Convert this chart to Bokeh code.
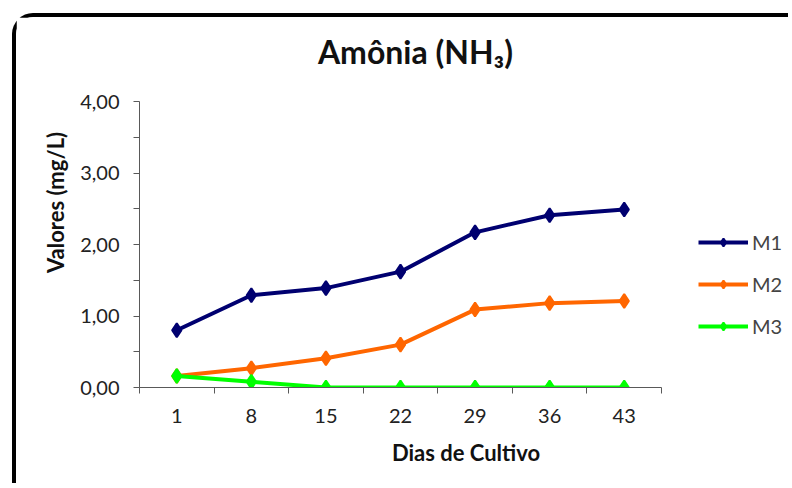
from bokeh.plotting import figure
from bokeh.models import (Range1d, FixedTicker, Legend, LegendItem, Label,
                          CustomJSTickFormatter)
from bokeh.embed import file_html
from bokeh.resources import INLINE

# ---- data ----
days = ["1", "8", "15", "22", "29", "36", "43"]
m1 = [0.80, 1.29, 1.39, 1.62, 2.17, 2.41, 2.49]
m2 = [0.16, 0.27, 0.41, 0.60, 1.09, 1.18, 1.21]
m3 = [0.16, 0.08, 0.00, 0.00, 0.00, 0.00, 0.00]
series_names = ["M1", "M2", "M3"]
y_ticks = [0, 1, 2, 3, 4]
y_tick_labels = ["0,00", "1,00", "2,00", "3,00", "4,00"]
title_text = "Amônia (NH₃)"
x_label = "Dias de Cultivo"
y_label = "Valores (mg/L)"

colors = ["#000070", "#ff6600", "#00ff00"]
FONT = "Lato"

# ---- layout constants (pixels) ----
W, H = 776, 470
LEFT, BOTTOM = 123, 100          # space for the axes
AXIS_W, AXIS_H = 522, 286        # drawn length of x and y axes
FRAME_W, FRAME_H = W - LEFT, H - BOTTOM
Y_MAX = y_ticks[-1]
x_end = len(days) * FRAME_W / AXIS_W
y_end = Y_MAX * FRAME_H / AXIS_H

xs = [i + 0.5 for i in range(len(days))]

p = figure(width=W, height=H, output_backend="svg", toolbar_location=None,
           title=None,
           x_range=Range1d(0, x_end), y_range=Range1d(0, y_end),
           min_border_left=LEFT, min_border_right=0,
           min_border_top=0, min_border_bottom=BOTTOM,
           outline_line_color=None, background_fill_color="white",
           border_fill_color="white")
p.styles = {"margin-left": "12px", "margin-top": "13px",
            "border-top": "4px solid black", "border-left": "4px solid black",
            "border-top-left-radius": "21px"}
p.xgrid.visible = False
p.ygrid.visible = False

axis_col = "#595959"
# x axis
p.xaxis.bounds = (0, len(days))
p.xaxis.ticker = FixedTicker(ticks=xs, minor_ticks=list(range(len(days) + 1)))
p.xaxis.formatter = CustomJSTickFormatter(args=dict(labels=days),
                                          code="return labels[Math.floor(tick)];")
p.xaxis.major_tick_out = 0
p.xaxis.major_tick_in = 0
p.xaxis.minor_tick_out = 6
p.xaxis.minor_tick_in = 0
p.xaxis.major_label_standoff = 15
p.xaxis.axis_label = x_label
p.xaxis.axis_label_standoff = 13

# y axis
p.yaxis.bounds = (0, Y_MAX)
p.yaxis.ticker = FixedTicker(ticks=y_ticks, minor_ticks=[0.5, 1.5, 2.5, 3.5])
p.yaxis.formatter = CustomJSTickFormatter(args=dict(labels=y_tick_labels),
                                          code="return labels[Math.round(tick)];")
p.yaxis.major_tick_out = 6
p.yaxis.major_tick_in = 0
p.yaxis.minor_tick_out = 6
p.yaxis.minor_tick_in = 0
p.yaxis.major_label_standoff = 14
p.yaxis.axis_label = y_label
p.yaxis.axis_label_standoff = 8

for ax in (p.xaxis[0], p.yaxis[0]):
    ax.axis_line_color = axis_col
    ax.major_tick_line_color = axis_col
    ax.minor_tick_line_color = axis_col
    ax.major_label_text_font = FONT
    ax.major_label_text_font_size = "20px"
    ax.major_label_text_color = "#222222"
    ax.axis_label_text_font = FONT
    ax.axis_label_text_font_size = "22px"
    ax.axis_label_text_font_style = "bold"
    ax.axis_label_text_color = "#111111"

items = []
for name, vals, col in zip(series_names, [m1, m2, m3], colors):
    ln = p.line(xs, vals, line_color=col, line_width=4)
    sc = p.scatter(xs, vals, marker="diamond", size=14, line_width=2,
                   fill_color=col, line_color=col)
    items.append(LegendItem(label=name, renderers=[ln, sc]))

legend = Legend(items=items, location=(559, 49), glyph_width=50, glyph_height=20,
                spacing=18, padding=0, margin=0, border_line_color=None,
                background_fill_alpha=0, label_text_font=FONT,
                label_text_font_size="20px", label_standoff=4,
                label_height=20)
p.add_layout(legend)

title = Label(x=276, y=336, x_units="screen", y_units="screen", text=title_text,
              text_align="center", text_baseline="middle", text_font=FONT,
              text_font_style="bold", text_font_size="32px", text_color="#111111")
p.add_layout(title)

open("out.html", "w").write(file_html(p, INLINE))
